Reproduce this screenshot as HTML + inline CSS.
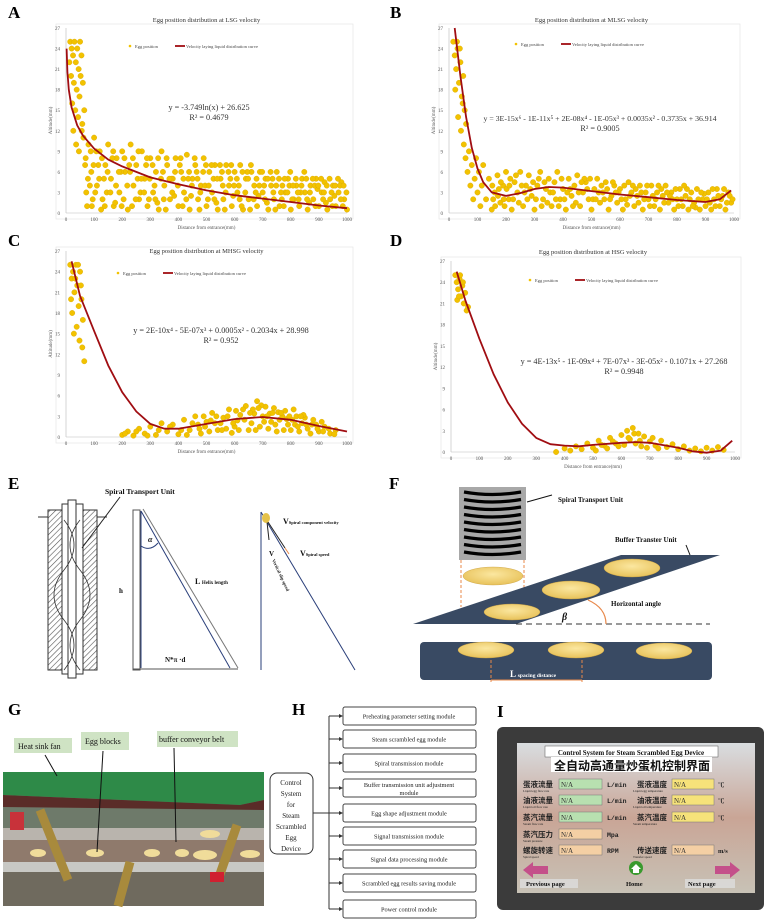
<!DOCTYPE html>
<html><head><meta charset="utf-8"><style>
html,body{margin:0;padding:0;background:#fff;}
svg{display:block;font-family:"Liberation Serif","Noto Serif CJK SC",serif;}
.lbl{font-family:"Liberation Serif",serif;font-weight:bold;font-size:17px;}
</style></head><body>
<svg id="fig" width="765" height="921" viewBox="0 0 765 921" xmlns="http://www.w3.org/2000/svg">
<defs>
<pattern id="hatch" width="4" height="4" patternUnits="userSpaceOnUse" patternTransform="rotate(45)"><rect width="4" height="4" fill="#fff"/><line x1="0" y1="0" x2="0" y2="4" stroke="#555" stroke-width="1.2"/></pattern>
<radialGradient id="egg" cx="0.5" cy="0.4" r="0.6"><stop offset="0" stop-color="#fbe7a0"/><stop offset="1" stop-color="#e8c25a"/></radialGradient>
<linearGradient id="scrbg" x1="0" y1="0" x2="0" y2="1"><stop offset="0" stop-color="#d9dde0"/><stop offset="0.5" stop-color="#c9a596"/><stop offset="1" stop-color="#c8c2b6"/></linearGradient>
</defs>

<text class="lbl" x="8" y="18">A</text>
<text class="lbl" x="390" y="18">B</text>
<text class="lbl" x="8" y="246">C</text>
<text class="lbl" x="390" y="246">D</text>
<text class="lbl" x="8" y="489">E</text>
<text class="lbl" x="389" y="489">F</text>
<text class="lbl" x="8" y="715">G</text>
<text class="lbl" x="292" y="715">H</text>
<text class="lbl" x="497" y="717">I</text>

<g id="charts"></g>

<g stroke="#333" fill="none">
  <rect x="48" y="510" width="14" height="160" fill="url(#hatch)" stroke="#333"/>
  <rect x="83" y="510" width="14" height="160" fill="url(#hatch)" stroke="#333"/>
  <rect x="62" y="504" width="21" height="170" fill="#fff"/>
  <rect x="68" y="500" width="8" height="178" fill="#fff"/>
  <line x1="38" y1="517" x2="48" y2="517"/><line x1="97" y1="517" x2="107" y2="517"/>
  <path d="M64 520 Q84 545 64 570 Q44 595 64 620 Q84 645 64 670" stroke-width="0.8"/>
  <path d="M80 520 Q60 545 80 570 Q100 595 80 620 Q60 645 80 670" stroke-width="0.8"/>
  <line x1="82" y1="548" x2="120" y2="497" stroke="#222"/>
  <rect x="133" y="510" width="7" height="160" stroke="#555"/>
  <line x1="141" y1="511" x2="141" y2="668" stroke="#2a3f7a"/>
  <line x1="141" y1="511" x2="230" y2="668" stroke="#2a3f7a"/>
  <line x1="143" y1="509" x2="238" y2="668" stroke="#777"/>
  <line x1="133" y1="669" x2="238" y2="669" stroke="#555"/>
  <path d="M141 546 Q150 552 158 543" stroke="#2a3f7a"/>
  <line x1="261" y1="512" x2="261" y2="670" stroke="#2a3f7a"/>
  <line x1="261" y1="512" x2="355" y2="670" stroke="#2a3f7a"/>
  <line x1="267" y1="522" x2="269" y2="540" stroke="#222"/>
  <line x1="268" y1="522" x2="285" y2="548" stroke="#222"/>
  <line x1="285" y1="548" x2="289" y2="554" stroke="#e8884a"/>
  <ellipse cx="266" cy="518" rx="4" ry="5" fill="#e6c24a" stroke="none"/>
</g>
<g font-family="Liberation Serif,serif" font-weight="bold" fill="#111">
  <text x="105" y="494" font-size="7.5">Spiral Transport  Unit</text>
  <text x="148" y="542" font-size="8" font-style="italic">α</text>
  <text x="195" y="584" font-size="8">L <tspan font-size="5">Helix length</tspan></text>
  <text x="119" y="593" font-size="7">h</text>
  <text x="165" y="662" font-size="7">N*π ·d</text>
  <text x="283" y="524" font-size="8">V<tspan font-size="4.5">Spiral component velocity</tspan></text>
  <text x="300" y="556" font-size="8">V<tspan font-size="4.5">Spiral speed</tspan></text>
  <text x="269" y="556" font-size="7">V</text>
  <text x="272" y="560" font-size="4.5" transform="rotate(65 272 560)">Vertical slip speed</text>
</g>

<g>
  <rect x="459" y="487" width="67" height="73" fill="#a8a8a8"/>
  <g id="coils" stroke="#000" stroke-width="3.2" fill="none"></g>
  <line x1="461" y1="560" x2="461" y2="607" stroke="#e8884a" stroke-dasharray="3,2"/>
  <line x1="524" y1="560" x2="524" y2="607" stroke="#e8884a" stroke-dasharray="3,2"/>
  <polygon points="413,624 516,624 720,555 621,555" fill="#394a63"/>
  <line x1="516" y1="624" x2="710" y2="624" stroke="#333" stroke-dasharray="6,4"/>
  <path d="M588 600 Q606 608 606 624" stroke="#e8884a" fill="none" stroke-width="1.2"/>
  <line x1="527" y1="502" x2="552" y2="495" stroke="#111"/>
  <line x1="686" y1="545" x2="690" y2="555" stroke="#111"/>
  <rect x="420" y="642" width="292" height="38" rx="4" fill="#394a63"/>
  <line x1="491" y1="660" x2="491" y2="682" stroke="#e8884a" stroke-dasharray="3,2"/>
  <line x1="582" y1="660" x2="582" y2="682" stroke="#e8884a" stroke-dasharray="3,2"/>
  <line x1="491" y1="680" x2="582" y2="680" stroke="#e8884a"/>
  <g fill="url(#egg)" stroke="#c9a040" stroke-width="0.4">
    <ellipse cx="493" cy="576" rx="30" ry="9"/>
    <ellipse cx="512" cy="612" rx="28" ry="8"/>
    <ellipse cx="571" cy="590" rx="29" ry="9"/>
    <ellipse cx="632" cy="568" rx="28" ry="9"/>
    <ellipse cx="486" cy="650" rx="28" ry="8"/>
    <ellipse cx="576" cy="650" rx="28" ry="8"/>
    <ellipse cx="664" cy="651" rx="28" ry="8"/>
  </g>
</g>
<g font-family="Liberation Serif,serif" font-weight="bold" fill="#111" font-size="7">
  <text x="558" y="502">Spiral  Transport Unit</text>
  <text x="615" y="542">Buffer Transter Unit</text>
  <text x="611" y="606">Horizontal angle</text>
  <text x="562" y="620" font-size="10" font-style="italic">β</text>
  <text x="510" y="677" font-size="9" fill="#fff">L <tspan font-size="5.5">spacing distance</tspan></text>
</g>

<g>
  <rect x="3" y="772" width="261" height="134" fill="#8d8f86"/>
  <rect x="3" y="800" width="261" height="30" fill="#6e7a6a"/>
  <polygon points="3,772 264,772 264,800 240,805 3,795" fill="#2e8a48"/>
  <polygon points="3,795 240,805 264,800 264,810 3,807" fill="#5a2c28"/>
  <rect x="3" y="828" width="261" height="12" fill="#b9b4ad"/>
  <rect x="3" y="840" width="261" height="22" fill="#8f7a6c"/>
  <rect x="3" y="862" width="261" height="10" fill="#c8c8c4"/>
  <rect x="3" y="872" width="261" height="34" fill="#6f6a5e"/>
  <g fill="#f0dc9a">
    <ellipse cx="38" cy="853" rx="8" ry="4"/><ellipse cx="95" cy="853" rx="9" ry="4"/><ellipse cx="152" cy="853" rx="8" ry="4"/><ellipse cx="182" cy="853" rx="7" ry="4"/><ellipse cx="205" cy="855" rx="12" ry="5"/><ellipse cx="250" cy="854" rx="10" ry="4"/><ellipse cx="210" cy="834" rx="10" ry="4"/>
  </g>
  <g stroke="#a88a3c" stroke-width="9">
    <line x1="40" y1="810" x2="68" y2="880"/>
    <line x1="130" y1="862" x2="118" y2="906"/>
    <line x1="237" y1="825" x2="218" y2="880"/>
  </g>
  <rect x="10" y="812" width="14" height="18" fill="#c8323a"/>
  <rect x="210" y="872" width="14" height="10" fill="#d02030"/>
</g>
<g font-family="Liberation Serif,serif" font-size="8" fill="#111">
  <rect x="14" y="738" width="58" height="15" fill="#cfe3c4"/>
  <text x="18" y="749">Heat sink fan</text>
  <rect x="81" y="732" width="48" height="18" fill="#cfe3c4"/>
  <text x="85" y="744">Egg blocks</text>
  <rect x="157" y="731" width="81" height="16" fill="#cfe3c4"/>
  <text x="159" y="742">buffer conveyor belt</text>
  <line x1="45" y1="755" x2="57" y2="776" stroke="#111"/>
  <line x1="103" y1="751" x2="97" y2="852" stroke="#111"/>
  <line x1="174" y1="748" x2="176" y2="842" stroke="#111"/>
</g>

<g id="panelH" font-family="Liberation Serif,serif" fill="#222">
  <rect x="270" y="773" width="43" height="81" rx="7" fill="#fff" stroke="#333"/>
  <text font-size="7" text-anchor="middle">
    <tspan x="291" y="785">Control</tspan><tspan x="291" y="796">System</tspan><tspan x="291" y="807">for</tspan><tspan x="291" y="818">Steam</tspan><tspan x="291" y="829">Scrambled</tspan><tspan x="291" y="840">Egg</tspan><tspan x="291" y="851">Device</tspan>
  </text>
  <line x1="313" y1="813" x2="329" y2="813" stroke="#333"/>
  <line x1="329" y1="716" x2="329" y2="909" stroke="#333"/>
</g>

<g>
  <rect x="497" y="727" width="267" height="183" rx="6" fill="#3b3b3b"/>
  <rect x="517" y="743" width="238" height="150" fill="url(#scrbg)"/>
  <rect x="545" y="746" width="173" height="11" fill="#fff" stroke="#555" stroke-width="0.5"/>
  <text x="631" y="755" text-anchor="middle" font-size="7" font-weight="bold" font-family="Liberation Serif,serif" fill="#111">Control System for Steam Scrambled Egg Device</text>
  <rect x="551" y="757" width="161" height="15" fill="#fff"/>
  <text x="632" y="770" text-anchor="middle" font-size="12" font-weight="bold" font-family="'Noto Sans CJK SC',sans-serif" fill="#111">全自动高通量炒蛋机控制界面</text>
  <g id="hmiRows"></g>
  <polygon points="523,870 533,862 533,866 548,866 548,874 533,874 533,878" fill="#c4508a"/>
  <circle cx="636" cy="868" r="7" fill="#3a9a2e"/>
  <polygon points="631,869 636,864 641,869 639,869 639,873 633,873 633,869" fill="#fff"/>
  <polygon points="740,870 730,862 730,866 715,866 715,874 730,874 730,878" fill="#c4508a"/>
  <g font-family="Liberation Serif,serif" font-weight="bold" font-size="6.5" fill="#111">
    <rect x="520" y="879" width="58" height="9" fill="#ddd" opacity="0.8"/>
    <text x="526" y="886">Previous page</text>
    <text x="626" y="886">Home</text>
    <rect x="685" y="879" width="50" height="9" fill="#ddd" opacity="0.8"/>
    <text x="688" y="886">Next page</text>
  </g>
</g>
</svg>

<script>
const yTicks = [0,3,6,9,12,15,18,21,24,27];
const xTicks = [0,100,200,300,400,500,600,700,800,900,1000];
const ptsA = [15,25,20,24,25,23,30,25,35,22,40,24,45,21,50,25,55,23,18,20,28,19,38,18,48,17,22,16,33,15,43,14,58,13,60,19,12,22,52,20,62,11,26,12,36,10,46,9,56,12,
70,8,80,10,90,6,100,11,110,4,120,9,130,2,140,7,150,10,160,5,170,1,180,8,190,3,200,9,210,6,220,0.5,230,10,240,4,250,7,260,2,270,9,280,5,290,1,300,8,310,3,320,6,330,0.5,340,9,350,4,360,7,370,2,380,5,390,8,400,1,410,6,420,3,430,8.5,440,0.5,450,5,460,7,470,2,480,4,490,8,500,1,510,6,520,3,530,7,540,0.5,550,5,560,2,570,7,580,4,590,1,600,6,610,3,620,7,630,0.5,640,5,650,2,660,6,670,4,680,1,690,6,700,3,710,5,720,0.5,730,4,740,2,750,6,760,1,770,4,780,3,790,5,800,0.5,810,2,820,4,830,1,840,5,850,3,860,0.5,870,4,880,2,890,5,900,1,910,3,920,4.5,930,0.5,940,2,950,4,960,1,970,3,980,4.5,990,2,1000,0.5,
75,1,95,2,125,0.5,145,3,175,1.5,205,2,235,1,265,3,295,2,325,1.5,355,0.5,385,2.5,415,1,445,2.5,475,0.5,505,2,535,1.5,565,0.5,595,2.5,625,1,655,0.5,685,2.5,715,1.5,745,0.5,775,1,805,2,835,3,865,1.5,895,3.5,925,1.5,955,2.5,985,1,
85,4,115,7,135,5,165,8,195,6,225,7,255,5,285,7,315,4,345,6,375,5,405,7,435,5,465,6,495,4,525,5,555,6,585,5,615,4,645,6,675,3,705,4,735,5,765,3,795,4,825,3,855,5,885,4,915,2,945,3,975,4,
65,15,68,7,72,3,78,5,88,9,92,1,98,7,104,3,108,9,118,5,128,8,138,1,148,6,158,3,168,9,178,4,188,6,198,1,208,8,218,4,228,6,238,8,248,2,258,9,268,5,278,3,288,8,298,5,308,7,318,2,328,8,338,5,348,2,358,8,368,5,378,3,388,6,398,4,408,8,418,5,428,2,438,6,448,4,458,8,468,5,478,3,488,6,498,7,508,4,518,7,528,2,538,5,548,7,558,4,568,3,578,6,588,7,598,4,608,5,618,2,628,6,638,3,648,5,658,7,668,2,678,5,688,4,698,6,708,2,718,5,728,6,738,3,748,4,758,5,768,2,778,5,788,3,798,6,808,4,818,5,828,2,838,4,848,6,858,2,868,3,878,5,888,1,898,4,908,5,918,3,928,4,938,5,948,1,958,4,968,5,978,2,988,4,998,3];
const curveA = [[2,24.0],[5,20.6],[10,18.0],[20,15.4],[40,12.8],[60,11.3],[100,9.4],[150,7.8],[200,6.8],[300,5.2],[400,4.2],[500,3.3],[600,2.6],[700,2.1],[800,1.6],[900,1.1],[1000,0.7]];
const ptsB = [15,25,20,23,25,21,30,24,35,19,40,22,45,17,50,20,55,15,22,18,32,14,42,12,52,10,60,13,28,25,38,24,48,16,58,8,65,6,70,9,75,4,80,7,85,2,90,5,95,8,100,3,105,6,110,1,115,4,120,7,130,2,140,5,
150,0.5,160,3,170,5.5,180,1.5,190,4,200,6,210,2,220,0.5,230,4.5,240,3,250,6,260,1,270,4,280,5.5,290,2.5,300,0.5,310,4,320,6,330,2,340,3.5,350,5,360,1,370,4.5,380,6,390,2,400,3.5,410,0.5,420,5,430,2.5,440,4,450,5.5,460,1,470,3,480,4.5,490,2,500,0.5,510,3.5,520,5,530,1.5,540,3,550,4.5,560,0.5,570,2.5,580,4,590,1.5,600,3.5,610,0.5,620,2,630,4.5,640,3,650,1,660,2.5,670,4,680,0.5,690,3,700,2,710,4,720,1,730,3,740,0.5,750,2.5,760,4,770,1.5,780,3,790,0.5,800,2,810,3.5,820,1,830,2.5,840,0.5,850,3,860,1.5,870,3.5,880,0.5,890,2,900,1,910,3,920,0.5,930,2,940,3.5,950,1,960,2.5,970,0.5,980,3,990,1.5,
155,2,175,3.5,195,1,215,5,245,1.5,265,3,295,4.5,325,1,355,3,385,1,415,3,445,1.5,475,5,505,2,535,4,565,2,595,3,625,1.2,655,3.5,685,2,715,2.5,745,3.5,775,2.5,805,1,835,3.5,865,0.8,895,2.8,925,3.5,955,2,985,2.5,
152,4,162,1,172,2.5,182,4.5,192,2,202,3.5,212,4,225,2,235,5.5,255,4,275,2,285,3.5,305,2,315,5,335,4.5,345,1.5,365,3,375,2,395,5,405,2,425,3.5,435,1,455,3,465,4.5,485,3.5,495,5,515,2,525,3,545,2,555,3.5,575,4.5,585,3,605,2,615,4,635,2.5,645,4,665,1.5,675,3,695,4,705,1,725,2,735,4,755,1.5,765,3,785,2,795,3.5,815,2,825,4,845,2,855,1,875,2,885,3,905,2,915,1.5,935,1,945,2.5,965,3.5,975,1.5,995,2];
const curveB = [[20,27],[40,20],[60,14],[80,9.5],[100,6.5],[120,4.5],[150,3.0],[200,2.5],[250,2.9],[300,3.5],[350,3.8],[400,3.7],[500,3.2],[600,2.7],[700,2.3],[800,1.9],[900,1.6],[950,2.0],[990,3.3]];
const ptsC = [15,25,20,23,25,24,30,21,35,25,40,22,45,19,50,24,55,20,60,17,22,18,28,15,38,16,48,14,58,13,18,20,43,25,33,23,53,22,65,11,
200,0.3,220,0.8,240,0.2,260,1.2,280,0.5,300,1.5,320,0.3,340,2,360,0.8,380,1.8,400,0.4,420,2.5,440,1,460,3,480,0.5,500,2.2,520,3.5,540,1,560,2.8,580,4,600,1.5,620,3.2,640,4.5,660,2,680,5.2,700,3,720,1.2,740,4.2,760,2.5,780,3.8,800,1,820,3,840,2,860,1.2,880,2.5,900,0.8,920,1.5,940,0.5,960,1,
430,0.3,470,1.8,510,0.8,550,2,590,0.6,610,2.4,650,1,670,3.4,690,1.5,710,4.4,730,2.2,750,0.8,770,3,790,1.8,810,4,830,0.8,850,2.8,870,0.5,890,1.8,910,2.2,
490,3,530,2,570,1.2,605,3.8,635,2.5,665,4,695,4.6,725,3.4,755,3.6,785,2.6,815,1.8,845,3.2,
210,0.5,250,0.8,290,0.2,330,1,370,1.5,410,1,450,2,475,1.2,495,1.5,515,2.4,535,3,555,1,575,3,595,2,615,1,630,4,655,3.5,675,1,685,4.2,705,2.2,715,3,735,3.5,745,1.8,765,3.5,775,1,795,3,805,2.5,825,1.5,835,3,855,1.8,875,1.8,895,1.2,915,0.8,935,1.2,955,0.4];
const curveC = [[20,25.5],[50,20.5],[100,15.4],[150,10.4],[200,6.5],[250,3.7],[300,1.9],[350,1.2],[400,1.2],[500,1.9],[600,2.6],[700,2.9],[800,2.5],[900,1.6],[1000,0.8]];
const ptsD = [15,25,20,24,25,23,30,24.5,35,22,40,23.5,45,21,50,22.5,55,20,60,20.5,22,21.5,32,25,42,24,28,22,
370,0,400,0.5,420,0.2,440,0.8,460,0.4,480,1.2,500,0.6,520,1.6,540,0.9,560,2,580,1.2,600,2.4,610,1,620,3,630,1.8,640,3.4,650,1.2,660,2.6,670,0.8,680,2.2,700,1.5,720,0.9,740,1.6,760,0.7,780,1.1,800,0.4,820,0.8,840,0.2,860,0.5,880,0.1,900,0.6,920,0.2,940,0.7,960,0.3,510,0.2,530,1,550,0.5,570,1.5,590,0.8,625,2,645,2.6,665,1.6,690,0.6,710,2,730,0.5];
const curveD = [[20,25.5],[50,21.5],[100,16],[150,11],[200,7],[250,4],[300,2],[350,1.1],[400,0.9],[450,0.8],[500,1],[600,1.3],[650,1.4],[700,1.3],[800,0.6],[850,0.1],[900,-0.1],[950,0.2],[990,1.6]];
const titles = ['Egg position distribution at LSG velocity','Egg position distribution at MLSG velocity','Egg position distribution at MHSG velocity','Egg position distribution at HSG velocity'];
const eqs = ['y = -3.749ln(x) + 26.625','y = 3E-15x⁶ - 1E-11x⁵ + 2E-08x⁴ - 1E-05x³ + 0.0035x² - 0.3735x + 36.914','y = 2E-10x⁴ - 5E-07x³ + 0.0005x² - 0.2034x + 28.998','y = 4E-13x⁵ - 1E-09x⁴ + 7E-07x³ - 3E-05x² - 0.1071x + 27.268'];
const r2s = ['R² = 0.4679','R² = 0.9005','R² = 0.952','R² = 0.9948'];

const NS='http://www.w3.org/2000/svg';
function mk(tag, attrs, parent){const e=document.createElementNS(NS,tag);for(const k in attrs)e.setAttribute(k,attrs[k]);parent.appendChild(e);return e;}
const root=document.getElementById('charts');
const layouts=[
 {x0:66,x1:347,yt:28,yb:213,tY:22,eqX:209,eqY:110,legY:46,legX:130},
 {x0:449,x1:734,yt:28,yb:213,tY:22,eqX:600,eqY:121,legY:44,legX:516},
 {x0:66,x1:347,yt:251,yb:437,tY:253,eqX:221,eqY:333,legY:273,legX:118},
 {x0:451,x1:735,yt:261,yb:452,tY:254,eqX:624,eqY:364,legY:280,legX:530}];
const datasets=[[ptsA,curveA],[ptsB,curveB],[ptsC,curveC],[ptsD,curveD]];
datasets.forEach((ds,i)=>{
  const L=layouts[i];
  const sx=v=>L.x0+(v/1000)*(L.x1-L.x0);
  const sy=v=>L.yb-(v/27)*(L.yb-L.yt);
  const g=mk('g',{},root);
  
  
  const fr=mk('rect',{x:L.x0-10,y:L.yt-4,width:L.x1-L.x0+16,height:L.yb-L.yt+10,fill:'none',stroke:'#e2e2e2','stroke-width':0.6},g);
  
  
  const t=mk('text',{x:(L.x0+L.x1)/2,y:L.tY,'text-anchor':'middle','font-size':6.5,fill:'#333'},g);t.textContent=titles[i];
  
  
  mk('line',{x1:L.x0,y1:L.yt,x2:L.x0,y2:L.yb,stroke:'#bbb','stroke-width':0.6},g);
  mk('line',{x1:L.x0,y1:L.yb,x2:L.x1,y2:L.yb,stroke:'#bbb','stroke-width':0.6},g);
  yTicks.forEach(v=>{const tt=mk('text',{x:L.x0-6,y:sy(v)+2,'text-anchor':'end','font-size':5,fill:'#555'},g);tt.textContent=v;
    
    });
  xTicks.forEach(v=>{const tt=mk('text',{x:sx(v),y:L.yb+8,'text-anchor':'middle','font-size':5,fill:'#555'},g);tt.textContent=v;
    
    });
  const xl=mk('text',{x:(L.x0+L.x1)/2,y:L.yb+16,'text-anchor':'middle','font-size':5,fill:'#555'},g);xl.textContent='Distance from entrance(mm)';
  
  
  const yl=mk('text',{x:L.x0-14,y:(L.yt+L.yb)/2,'text-anchor':'middle','font-size':5,fill:'#555',transform:`rotate(-90 ${L.x0-14} ${(L.yt+L.yb)/2})`},g);yl.textContent='Altitude(mm)';
  
  
  const pts=ds[0];
  for(let k=0;k<pts.length;k+=2){
    const c=mk('circle',{cx:sx(pts[k]),cy:sy(pts[k+1]),r:2.7,fill:'#f2c200',stroke:'#d9a800','stroke-width':0.4},g);
    
    
  }
  const d=ds[1].map((p,j)=>(j?'L':'M')+sx(p[0]).toFixed(1)+' '+sy(p[1]).toFixed(1)).join(' ');
  const pth=mk('path',{d:d,fill:'none',stroke:'#a00d12','stroke-width':1.8,'stroke-linejoin':'round'},g);
  
  
  const lp=mk('circle',{cx:L.legX,cy:L.legY,r:1.3,fill:'#f2c200'},g);
  
  
  const lt=mk('text',{x:L.legX+5,y:L.legY+2,'font-size':4.5,fill:'#444'},g);lt.textContent='Egg position';
  
  
  const ll=mk('line',{x1:L.legX+45,y1:L.legY,x2:L.legX+55,y2:L.legY,stroke:'#a00d12','stroke-width':1.8},g);
  
  
  const lt2=mk('text',{x:L.legX+56,y:L.legY+2,'font-size':4.5,fill:'#444'},g);lt2.textContent='Velocity laying liquid distribution curve';
  
  
  const eq=mk('text',{x:L.eqX,y:L.eqY,'text-anchor':'middle','font-size':i==1?7.8:8.2,fill:'#333'},g);eq.textContent=eqs[i];
  
  
  const r2=mk('text',{x:L.eqX,y:L.eqY+10,'text-anchor':'middle','font-size':8.2,fill:'#333'},g);r2.textContent=r2s[i];
  
  
});

const coils=document.getElementById('coils');
for(let k=0;k<9;k++){const y=492+k*7.5;
  const p=mk('path',{d:`M464 ${y} Q492 ${y+5} 521 ${y}`},coils);
  
  }

const modules=['Preheating parameter setting module','Steam scrambled egg module','Spiral transmission module','Buffer transmission unit adjustment module','Egg shape adjustment module','Signal transmission module','Signal data processing module','Scrambled egg results saving module','Power control module'];
const modY=[716,739,763,788,813,836,859,883,909];
const H=document.getElementById('panelH');
modules.forEach((m,k)=>{
  const cy=modY[k];
  const ln=mk('line',{x1:329,y1:cy,x2:342,y2:cy,stroke:'#333'},H);
  
  
  mk('polygon',{points:`343,${cy} 339,${cy-2} 339,${cy+2}`,fill:'#333'},H);
  const r=mk('rect',{x:343,y:cy-9,width:133,height:18,rx:2,fill:'#fff',stroke:'#444'},H);
  
  
  if(k===3){
    const t=mk('text',{x:409,y:cy-1,'text-anchor':'middle','font-size':6.3},H);t.textContent='Buffer transmission unit adjustment';
    
    
    const t2=mk('text',{x:409,y:cy+7,'text-anchor':'middle','font-size':6.3},H);t2.textContent='module';
    
    
  } else {
    const t=mk('text',{x:409,y:cy+2.5,'text-anchor':'middle','font-size':6.3},H);t.textContent=m;
    
    
  }
});

const hr=document.getElementById('hmiRows');
const rows=[
 {y:784,lc:'蛋液流量',le:'Liquid egg flow rate',lu:'L/min',rc:'蛋液温度',re:'Liquid egg temperature',ru:'℃',lcol:'#b8e0b0',rcol:'#f6e27a'},
 {y:800,lc:'油液流量',le:'Liquid oil flow rate',lu:'L/min',rc:'油液温度',re:'Liquid oil temperature',ru:'℃',lcol:'#b8e0b0',rcol:'#f6e27a'},
 {y:817,lc:'蒸汽流量',le:'Steam flow rate',lu:'L/min',rc:'蒸汽温度',re:'Steam temperature',ru:'℃',lcol:'#b8e0b0',rcol:'#f6e27a'},
 {y:834,lc:'蒸汽压力',le:'Steam pressure',lu:'Mpa',rc:'',re:'',ru:'',lcol:'#f4cfa4',rcol:''},
 {y:850,lc:'螺旋转速',le:'Spiral speed',lu:'RPM',rc:'传送速度',re:'Transfer speed',ru:'m/s',lcol:'#f4cfa4',rcol:'#f4cfa4'}];
rows.forEach(r=>{
  const cn="'Noto Sans CJK SC',sans-serif";
  const a=mk('text',{x:523,y:r.y+3,'font-size':7.5,'font-weight':'bold','font-family':cn,fill:'#222'},hr);a.textContent=r.lc;
  
  
  const ae=mk('text',{x:523,y:r.y+8,'font-size':3.2,fill:'#222'},hr);ae.textContent=r.le;
  
  
  const b=mk('rect',{x:559,y:r.y-5,width:43,height:10,fill:r.lcol,stroke:'#777','stroke-width':0.5},hr);
  
  
  const bt=mk('text',{x:561,y:r.y+3,'font-size':7,fill:'#333'},hr);bt.textContent='N/A';
  
  
  const u=mk('text',{x:607,y:r.y+3,'font-size':6.5,'font-weight':'bold','font-family':'Liberation Mono,monospace',fill:'#222'},hr);u.textContent=r.lu;
  
  
  if(r.rc){
    const c=mk('text',{x:637,y:r.y+3,'font-size':7.5,'font-weight':'bold','font-family':cn,fill:'#222'},hr);c.textContent=r.rc;
    
    
    const ce=mk('text',{x:633,y:r.y+8,'font-size':3.2,fill:'#222'},hr);ce.textContent=r.re;
    
    
    const d=mk('rect',{x:672,y:r.y-5,width:42,height:10,fill:r.rcol,stroke:'#777','stroke-width':0.5},hr);
    
    
    const dt=mk('text',{x:674,y:r.y+3,'font-size':7,fill:'#333'},hr);dt.textContent='N/A';
    
    
    const u2=mk('text',{x:718,y:r.y+3,'font-size':6.5,'font-weight':'bold',fill:'#222'},hr);u2.textContent=r.ru;
    
    
  }
});
</script>
</body></html>
